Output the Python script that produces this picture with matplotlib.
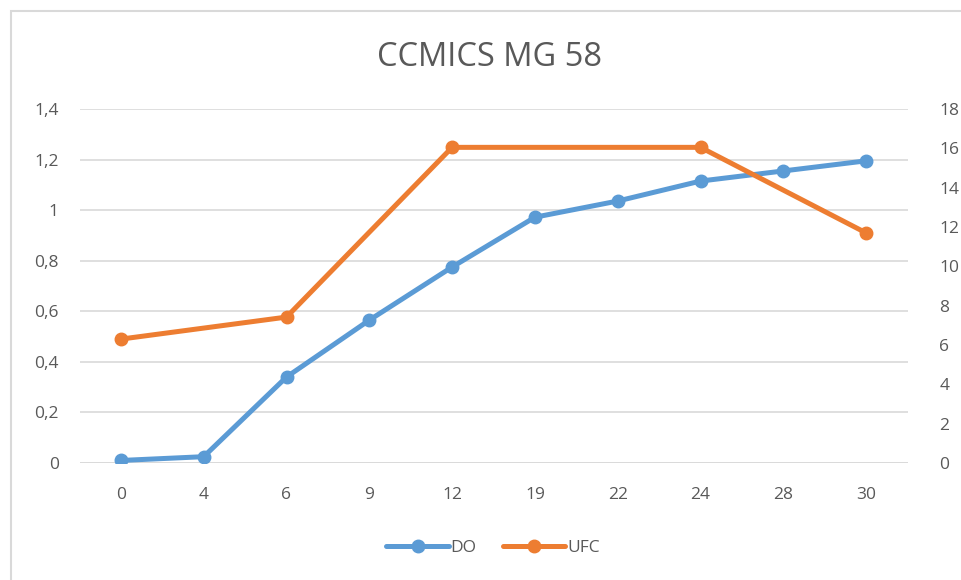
import numpy as np
import matplotlib.pyplot as plt
from matplotlib.patches import Rectangle

# data
days = ['0', '4', '6', '9', '12', '19', '22', '24', '28', '30']
do_vals = [0.01, 0.025, 0.34, 0.565, 0.775, 0.972, 1.036, 1.115, 1.155, 1.195]
ufc_vals = [6.3, np.nan, 7.42, np.nan, 16.05, np.nan, np.nan, 16.05, np.nan, 11.7]

blue = '#5B9BD5'
orange = '#ED7D31'
txt = '#595959'
grid = '#D9D9D9'

plt.rcParams['font.family'] = ['Open Sans', 'DejaVu Sans']

fig = plt.figure(figsize=(9.61, 5.80), dpi=100)
fig.patches.append(Rectangle((11 / 961, -0.1), 1.2, 1 - 11 / 580 + 0.1,
                             transform=fig.transFigure, fill=False,
                             edgecolor='#D9D9D9', linewidth=1.5))

ax = fig.add_axes([79.5 / 961, 117 / 580, 828 / 961, 354 / 580])
ax2 = ax.twinx()

x = np.arange(len(days))
ax.plot(x, do_vals, color=blue, linewidth=3.6, marker='o', markersize=9,
        label='DO', zorder=3, solid_capstyle='round')

ufc = np.array(ufc_vals)
ok = ~np.isnan(ufc)
ax2.plot(x[ok], ufc[ok], color=orange, linewidth=3.6, marker='o', markersize=9,
         label='UFC', zorder=3, solid_capstyle='round')

ax.set_xlim(-0.5, len(days) - 0.5)
ax.set_ylim(0, 1.4)
ax2.set_ylim(0, 18)
ax.set_xticks(x)
ax.set_xticklabels(days)
ax.set_yticks(np.arange(0, 1.41, 0.2))
ax.set_yticklabels(['0', '0,2', '0,4', '0,6', '0,8', '1', '1,2', '1,4'])
ax2.set_yticks(np.arange(0, 19, 2))

for a in (ax, ax2):
    for s in a.spines.values():
        s.set_visible(False)
    a.tick_params(length=0, labelsize=12.5, colors=txt)
ax.tick_params(axis='y', pad=15)
ax.tick_params(axis='x', pad=17)
ax2.tick_params(axis='y', which='both', right=True, labelright=True, pad=23)
ax.grid(axis='y', color=grid, linewidth=1.2)
ax.set_axisbelow(True)
ax.axhline(0, color=grid, linewidth=1.2, zorder=1)

fig.text(490 / 961, 1 - 57 / 580, 'CCMICS MG 58', ha='center', va='center',
         fontsize=23.5, color=txt)

h1, l1 = ax.get_legend_handles_labels()
h2, l2 = ax2.get_legend_handles_labels()
fig.legend(h1 + h2, l1 + l2, loc='center', bbox_to_anchor=(493 / 961, 1 - 548 / 580),
           ncol=2, frameon=False, fontsize=12.5, labelcolor=txt,
           handlelength=3.6, handletextpad=0.1, columnspacing=1.5)

fig.savefig('out.png', dpi=100)
